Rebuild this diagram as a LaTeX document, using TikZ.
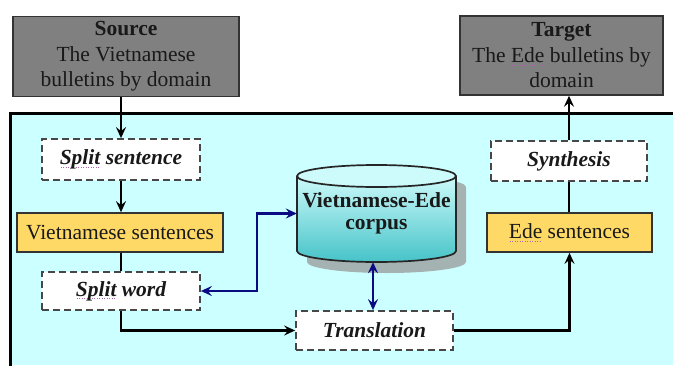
\documentclass[tikz,border=0pt]{standalone}
\usepackage{fontspec}
\setmainfont{Liberation Serif}
\usetikzlibrary{arrows.meta}
\definecolor{panelcyan}{RGB}{204,255,255}
\definecolor{boxgray}{RGB}{128,128,128}
\definecolor{boxyellow}{RGB}{255,217,102}
\definecolor{navyarrow}{RGB}{10,10,130}
\definecolor{cyltop}{RGB}{205,250,250}
\definecolor{cylbot}{RGB}{70,195,200}
\definecolor{shadowgray}{RGB}{165,178,178}
\definecolor{textdark}{RGB}{25,25,25}
\newcommand\spellmark[1]{\setbox0\hbox{#1}\rlap{\color{violet!60}\raisebox{-3pt}{\hbox to \wd0{\leaders\hbox to 2.5pt{\hss\rule{1pt}{0.8pt}\hss}\hfill}}}#1}
\begin{document}
\begin{tikzpicture}[x=1pt,y=-1pt,
  base/.style={inner sep=0pt, align=center, text=textdark, font=\fontsize{21.5}{25.5}\selectfont},
  graybox/.style={base, fill=boxgray, draw=black!80, line width=1.5pt},
  dashbox/.style={base, fill=white, draw=black!72, line width=1.8pt, dash pattern=on 7pt off 4pt, font=\fontsize{21.5}{25}\selectfont\bfseries\itshape},
  yellowbox/.style={base, fill=boxyellow, draw=black!80, line width=1.7pt},
  flow/.style={line width=2.2pt, draw=black, -{Stealth[length=11pt,width=10pt,inset=4pt]}},
  link/.style={line width=2.2pt, draw=black},
  bilink/.style={line width=2.2pt, draw=navyarrow, {Stealth[length=11pt,width=10pt,inset=4pt]}-{Stealth[length=11pt,width=10pt,inset=4pt]}}
]
\useasboundingbox (0,0) rectangle (673,365);
% panel
\fill[panelcyan] (10,113) rectangle (673,365);
\draw[line width=3pt, line cap=rect] (673,113) -- (10.5,113) -- (10.5,366);

% top boxes
\node[graybox, minimum width=226pt, minimum height=80pt] (src) at (126,56.5)
  {\textbf{Source}\\The Vietnamese\\bulletins by domain};
\node[graybox, minimum width=203pt, minimum height=79pt] (tgt) at (561.5,55.5)
  {\textbf{Target}\\The \spellmark{Ede} bulletins by\\domain};

% left column
\node[dashbox, minimum width=158pt, minimum height=41pt] (ss) at (121,159.5) {\spellmark{Split} sentence};
\node[yellowbox, minimum width=206pt, minimum height=39pt] (vs) at (120,232.5) {Vietnamese sentences};
\node[dashbox, minimum width=158pt, minimum height=38pt] (sw) at (121,291) {\spellmark{Split} word};

% middle
\node[dashbox, minimum width=157pt, minimum height=39pt] (tr) at (374.5,330.5) {Translation};

% right column
\node[dashbox, minimum width=156pt, minimum height=40pt] (syn) at (569,161) {Synthesis};
\node[yellowbox, minimum width=165pt, minimum height=39pt] (ede) at (569.5,232.5) {\spellmark{Ede} sentences};

% cylinder (shadow, body, top)
\fill[shadowgray] (307,187) -- (307,262)
  arc[start angle=180, end angle=360, x radius=79.5pt, y radius=11pt]
  -- (466,187)
  arc[start angle=0, end angle=180, x radius=79.5pt, y radius=11pt] -- cycle;
\shade[top color=cyltop, bottom color=cylbot] (297,176) -- (297,251)
  arc[start angle=180, end angle=360, x radius=79.5pt, y radius=11pt]
  -- (456,176) -- cycle;
\draw[line width=1.7pt, draw=black!85] (297,176) -- (297,251)
  arc[start angle=180, end angle=360, x radius=79.5pt, y radius=11pt]
  -- (456,176);
\draw[line width=1.7pt, draw=black!85, fill=cyltop] (376.5,176) ellipse[x radius=79.5pt, y radius=11pt];
\node[inner sep=0pt, minimum width=159pt, minimum height=97pt, align=center, text=textdark,
  font=\fontsize{21.5}{22}\selectfont\bfseries] (db) at (376.5,213.5) {Vietnamese-Ede\\corpus};

% connectors
\coordinate (bend) at (257,291);
\draw[flow] (src.south -| ss.north) -- (ss.north);
\draw[flow] (ss.south) -- (ss.south |- vs.north);
\draw[link] (vs.south -| sw.north) -- (sw.north);
\draw[flow] (sw.south) |- (tr.west);
\draw[flow] (tr.east) -| (ede.south);
\draw[link] (ede.north -| syn.south) -- (syn.south);
\draw[flow] (syn.north) -- (syn.north |- tgt.south);
\draw[bilink] (sw.east) -- (bend) |- (db.west);
\draw[bilink] (db.south -| 373,0) -- (tr.north -| 373,0);
\end{tikzpicture}
\end{document}
